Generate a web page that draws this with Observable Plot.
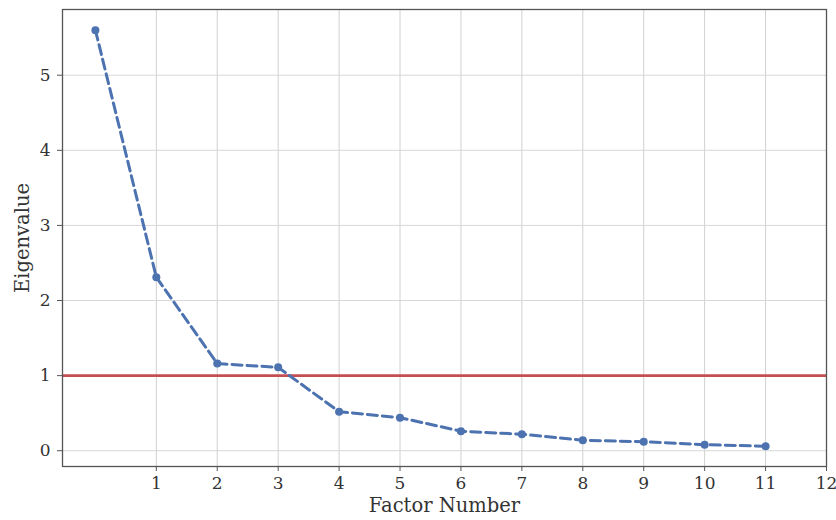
<!DOCTYPE html>
<html>
<head>
<meta charset="utf-8">
<script src="https://cdn.jsdelivr.net/npm/d3@7"></script>
<script src="https://cdn.jsdelivr.net/npm/@observablehq/plot@0.6"></script>
<style>
  body { margin: 0; background: #fff; }
</style>
</head>
<body>
<div id="chart"></div>
<script>
const factors = [0, 1, 2, 3, 4, 5, 6, 7, 8, 9, 10, 11];
const eigenvalues = [5.60, 2.31, 1.16, 1.11, 0.52, 0.44, 0.26, 0.22, 0.14, 0.12, 0.08, 0.06];
const xTicks = [1, 2, 3, 4, 5, 6, 7, 8, 9, 10, 11, 12];
const yTicks = [0, 1, 2, 3, 4, 5];
const threshold = [1];
const xLabel = "Factor Number";
const yLabel = "Eigenvalue";

const data = factors.map((f, i) => ({factor: f, eigen: eigenvalues[i]}));

const chart = Plot.plot({
  width: 836,
  height: 520,
  marginLeft: 62,
  marginRight: 10,
  marginTop: 9,
  marginBottom: 54,
  style: {fontFamily: "'DejaVu Serif', serif", fontSize: "17px", color: "#333", background: "#fff"},
  x: {domain: [-0.54, 12], ticks: xTicks, label: null},
  y: {domain: [-0.21, 5.875], ticks: yTicks, label: null},
  marks: [
    Plot.gridX(xTicks, {stroke: "#d0d0d0", strokeOpacity: 1, strokeWidth: 1}),
    Plot.gridY(yTicks, {stroke: "#d8d8d8", strokeOpacity: 1, strokeWidth: 1}),
    Plot.ruleY(threshold, {stroke: "#c44e52", strokeWidth: 2.8}),
    Plot.line(data, {x: "factor", y: "eigen", stroke: "#4c72b0", strokeWidth: 3, strokeDasharray: "10,5"}),
    Plot.dot(data, {x: "factor", y: "eigen", fill: "#4c72b0", r: 4}),
    Plot.frame({stroke: "#555", strokeWidth: 1.3}),
    Plot.axisX(xTicks, {tickSize: 5, tickPadding: 5, fontSize: 17, stroke: "#555", fill: "#333", label: null, tickFormat: "d"}),
    Plot.axisY(yTicks, {tickSize: 5, tickPadding: 7, fontSize: 17, stroke: "#555", fill: "#333", label: null, tickFormat: "d"}),
    Plot.text([xLabel], {text: d => d, frameAnchor: "bottom", dy: 45, fontSize: 19.5, fill: "#333"}),
    Plot.text([yLabel], {text: d => d, frameAnchor: "left", dx: -40, rotate: -90, textAnchor: "middle", fontSize: 19.5, fill: "#333"})
  ]
});
document.getElementById("chart").appendChild(chart);
</script>
</body>
</html>
